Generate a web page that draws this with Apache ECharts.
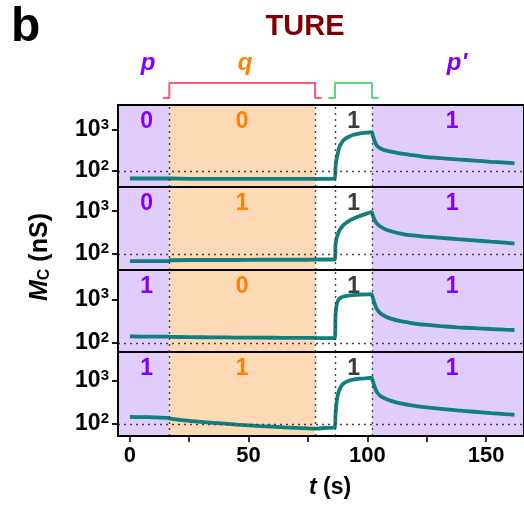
<!DOCTYPE html>
<html>
<head>
<meta charset="utf-8">
<script src="https://cdn.jsdelivr.net/npm/echarts@6/dist/echarts.min.js"></script>
<style>
  html, body { margin: 0; padding: 0; background: #fff; }
  #chart { width: 524px; height: 508px; }
</style>
</head>
<body>
<div id="chart"></div>
<script>
// Sample times (s), shared by all four traces
const times = [0, 5, 10, 16, 17, 25, 35, 45, 55, 65, 75, 78, 82, 86.3, 86.6, 87, 87.5, 88.2, 89, 90,
  92, 94, 97, 100, 101.8, 102.3, 103, 104, 105.5, 107.5, 110, 114, 118, 124, 131, 138, 145, 152, 158, 162];

// Memconductance M_C (nS) for the four input combinations (p, q)
const mc00 = [66, 66, 66, 66, 66, 65, 65, 65, 65, 65, 65, 65, 65, 66, 120, 190, 260, 380, 470, 570,
  680, 760, 830, 870, 890, 760, 560, 420, 360, 320, 300, 270, 250, 224, 207, 193, 181, 169, 161, 155];
const mc01 = [68, 68, 68, 68, 71, 72, 72, 72, 73, 73, 73, 74, 74, 74, 160, 225, 280, 350, 410, 480,
  580, 670, 780, 890, 950, 800, 640, 520, 440, 380, 340, 300, 275, 255, 238, 222, 208, 194, 183, 175];
const mc10 = [141, 140, 140, 139, 138, 136, 134, 133, 132, 131, 130, 130, 129, 129, 400, 700, 900, 1030, 1100, 1160,
  1220, 1250, 1280, 1300, 1310, 1100, 820, 600, 480, 410, 360, 315, 290, 262, 243, 228, 218, 209, 202, 198];
const mc11 = [145, 144, 142, 138, 132, 117, 106, 96, 89, 83, 78, 77, 80, 82, 160, 300, 450, 620, 760, 880,
  1010, 1080, 1140, 1180, 1200, 1000, 760, 560, 450, 390, 345, 300, 275, 247, 225, 206, 192, 179, 169, 163];
const traces = [mc00, mc01, mc10, mc11];

// Logic states shown in each panel
const pStates = ['0', '0', '1', '1'];
const qStates = ['0', '1', '0', '1'];
const pulseState = '1';
const pPrimeStates = ['1', '1', '1', '1'];

// Stimulus windows (s)
const qWindow = [16.6, 78];
const pulseWindow = [86.4, 102];
const tMin = -5, tMax = 166;

// Axis ranges and ticks
const yMins = [41, 42, 62, 52];
const yMaxs = [4100, 3700, 4700, 4800];
const yMajor = [100, 1000];
const xMajor = [0, 50, 100, 150];
const xTicks = [0, 25, 50, 75, 100, 125, 150];

const FONT = 'Arial, "Liberation Sans", sans-serif';
const TEAL = '#127f7f';
const VIOLET = '#8000ff';
const ORANGE = '#ff8000';
const LAVENDER = '#e1cdfc';
const PEACH = '#fed9b5';

// minor log ticks: 2..9 x each decade
const yMinor = [];
for (let d = 10; d <= 1000; d *= 10) for (let k = 2; k <= 9; k++) yMinor.push(d * k);

const panelTops = [105, 187, 270, 352];
const panelHeights = [82, 83, 82, 84];

const grids = [], xAxes = [], yAxes = [], series = [];

panelTops.forEach((top, i) => {
  grids.push({ left: 118, right: -3, top: top, height: panelHeights[i], show: true,
    backgroundColor: 'transparent', borderColor: '#000', borderWidth: 2, z: 10 });
  const bottom = i === 3;
  xAxes.push({
    type: 'value', gridIndex: i, min: tMin, max: tMax, show: bottom,
    axisLine: { show: true, onZero: false, lineStyle: { color: '#000', width: 2 } },
    axisTick: { show: true, inside: false, length: 6, customValues: xTicks, lineStyle: { color: '#000', width: 1.6 } },
    axisLabel: { customValues: xMajor, fontSize: 22, fontWeight: 'bold', color: '#000', fontFamily: FONT, margin: 9 },
    splitLine: { show: false }, z: 11
  });
  yAxes.push({
    type: 'log', logBase: 10, gridIndex: i, min: yMins[i], max: yMaxs[i],
    axisLine: { show: true, onZero: false, lineStyle: { color: '#000', width: 2 } },
    axisTick: { show: true, inside: false, length: 6, customValues: yMajor, lineStyle: { color: '#000', width: 1.8 } },
    axisLabel: {
      customValues: yMajor, margin: 9, color: '#000', fontFamily: FONT,
      formatter: v => '{b|10}{s|' + Math.round(Math.log10(v)) + '}',
      rich: {
        b: { fontSize: 23, fontWeight: 'bold', fontFamily: FONT, color: '#000', lineHeight: 24 },
        s: { fontSize: 15, fontWeight: 'bold', fontFamily: FONT, color: '#000', padding: [0, 0, 11, 0] }
      }
    },
    splitLine: { show: false }, z: 11
  });
  yAxes.push({
    type: 'log', logBase: 10, gridIndex: i, min: yMins[i], max: yMaxs[i],
    axisLine: { show: false, onZero: false },
    axisTick: { show: true, inside: false, length: 3, customValues: yMinor, lineStyle: { color: '#000', width: 1 } },
    axisLabel: { show: false }, splitLine: { show: false }, z: 11
  });

  const dotted = { type: [2, 4], color: '#444', width: 1.4 };
  series.push({
    type: 'line', xAxisIndex: i, yAxisIndex: 2 * i,
    data: times.map((t, j) => [t, traces[i][j]]),
    showSymbol: false, smooth: 0.2,
    lineStyle: { color: TEAL, width: 3.8 }, itemStyle: { color: TEAL },
    silent: true, z: 3,
    markArea: {
      silent: true,
      label: { show: true, position: 'insideTop', distance: 5, fontSize: 23, fontWeight: 'bold', fontFamily: FONT },
      data: [
        [{ name: pStates[i], xAxis: tMin, itemStyle: { color: LAVENDER }, label: { color: VIOLET, offset: [3, 0] } }, { xAxis: qWindow[0] }],
        [{ name: qStates[i], xAxis: qWindow[0], itemStyle: { color: PEACH }, label: { color: ORANGE } }, { xAxis: qWindow[1] }],
        [{ name: pulseState, xAxis: pulseWindow[0], itemStyle: { color: 'rgba(255,255,255,0)' }, label: { color: '#3b3b3b' } }, { xAxis: pulseWindow[1] }],
        [{ name: pPrimeStates[i], xAxis: pulseWindow[1], itemStyle: { color: LAVENDER }, label: { color: VIOLET, offset: [4, 0] } }, { xAxis: tMax }]
      ]
    },
    markLine: {
      silent: true, symbol: ['none', 'none'], label: { show: false }, lineStyle: dotted,
      data: [
        { xAxis: qWindow[0] }, { xAxis: qWindow[1] },
        { xAxis: pulseWindow[0] }, { xAxis: pulseWindow[1] },
        { yAxis: 100 }
      ]
    }
  });
});

// Stimulus brackets above the panels
grids.push({ left: 118, right: -3, top: 83, height: 15 });
xAxes.push({ type: 'value', gridIndex: 4, min: tMin, max: tMax, show: false });
yAxes.push({ type: 'value', gridIndex: 4, min: 0, max: 1, show: false });
const tail = 2.8;
function bracket(w) {
  return [[w[0] - tail, 0], [w[0], 0], [w[0], 1], [w[1], 1], [w[1], 0], [w[1] + tail, 0]];
}
series.push({ type: 'line', xAxisIndex: 4, yAxisIndex: 8, data: bracket(qWindow), showSymbol: false,
  clip: false, silent: true, lineStyle: { color: '#ff5b70', width: 2 } });
series.push({ type: 'line', xAxisIndex: 4, yAxisIndex: 8, data: bracket(pulseWindow), showSymbol: false,
  clip: false, silent: true, lineStyle: { color: '#5ed67c', width: 2 } });

const chart = echarts.init(document.getElementById('chart'), null, { renderer: 'canvas' });
chart.setOption({
  animation: false,
  backgroundColor: '#fff',
  grid: grids, xAxis: xAxes, yAxis: yAxes, series: series,
  graphic: [
    { type: 'text', left: 11, top: 4, style: { text: 'b', font: 'bold 48px ' + FONT, fill: '#000' } },
    { type: 'text', x: 305, y: 27, style: { text: 'TURE', font: 'bold 29px ' + FONT, fill: '#7d0000', align: 'center', verticalAlign: 'middle' } },
    { type: 'text', x: 148, y: 63, style: { text: 'p', font: 'italic bold 24px ' + FONT, fill: VIOLET, align: 'center', verticalAlign: 'middle' } },
    { type: 'text', x: 245, y: 63, style: { text: 'q', font: 'italic bold 24px ' + FONT, fill: ORANGE, align: 'center', verticalAlign: 'middle' } },
    { type: 'text', x: 457, y: 63, style: { text: "p'", font: 'italic bold 24px ' + FONT, fill: VIOLET, align: 'center', verticalAlign: 'middle' } },
    { type: 'text', x: 40, y: 257, rotation: Math.PI / 2,
      style: {
        text: '{m|M}{c|C}{n| (nS)}', align: 'center', verticalAlign: 'middle', fill: '#000',
        rich: {
          m: { font: 'italic bold 25px ' + FONT, lineHeight: 27 },
          c: { font: 'bold 16px ' + FONT, padding: [9, 0, 0, 0] },
          n: { font: 'bold 25px ' + FONT, lineHeight: 27 }
        }
      } },
    { type: 'text', x: 330, y: 488,
      style: {
        text: '{i|t}{n| (s)}', align: 'center', verticalAlign: 'middle', fill: '#000',
        rich: {
          i: { font: 'italic bold 23px ' + FONT },
          n: { font: 'bold 23px ' + FONT }
        }
      } }
  ]
});
</script>
</body>
</html>
